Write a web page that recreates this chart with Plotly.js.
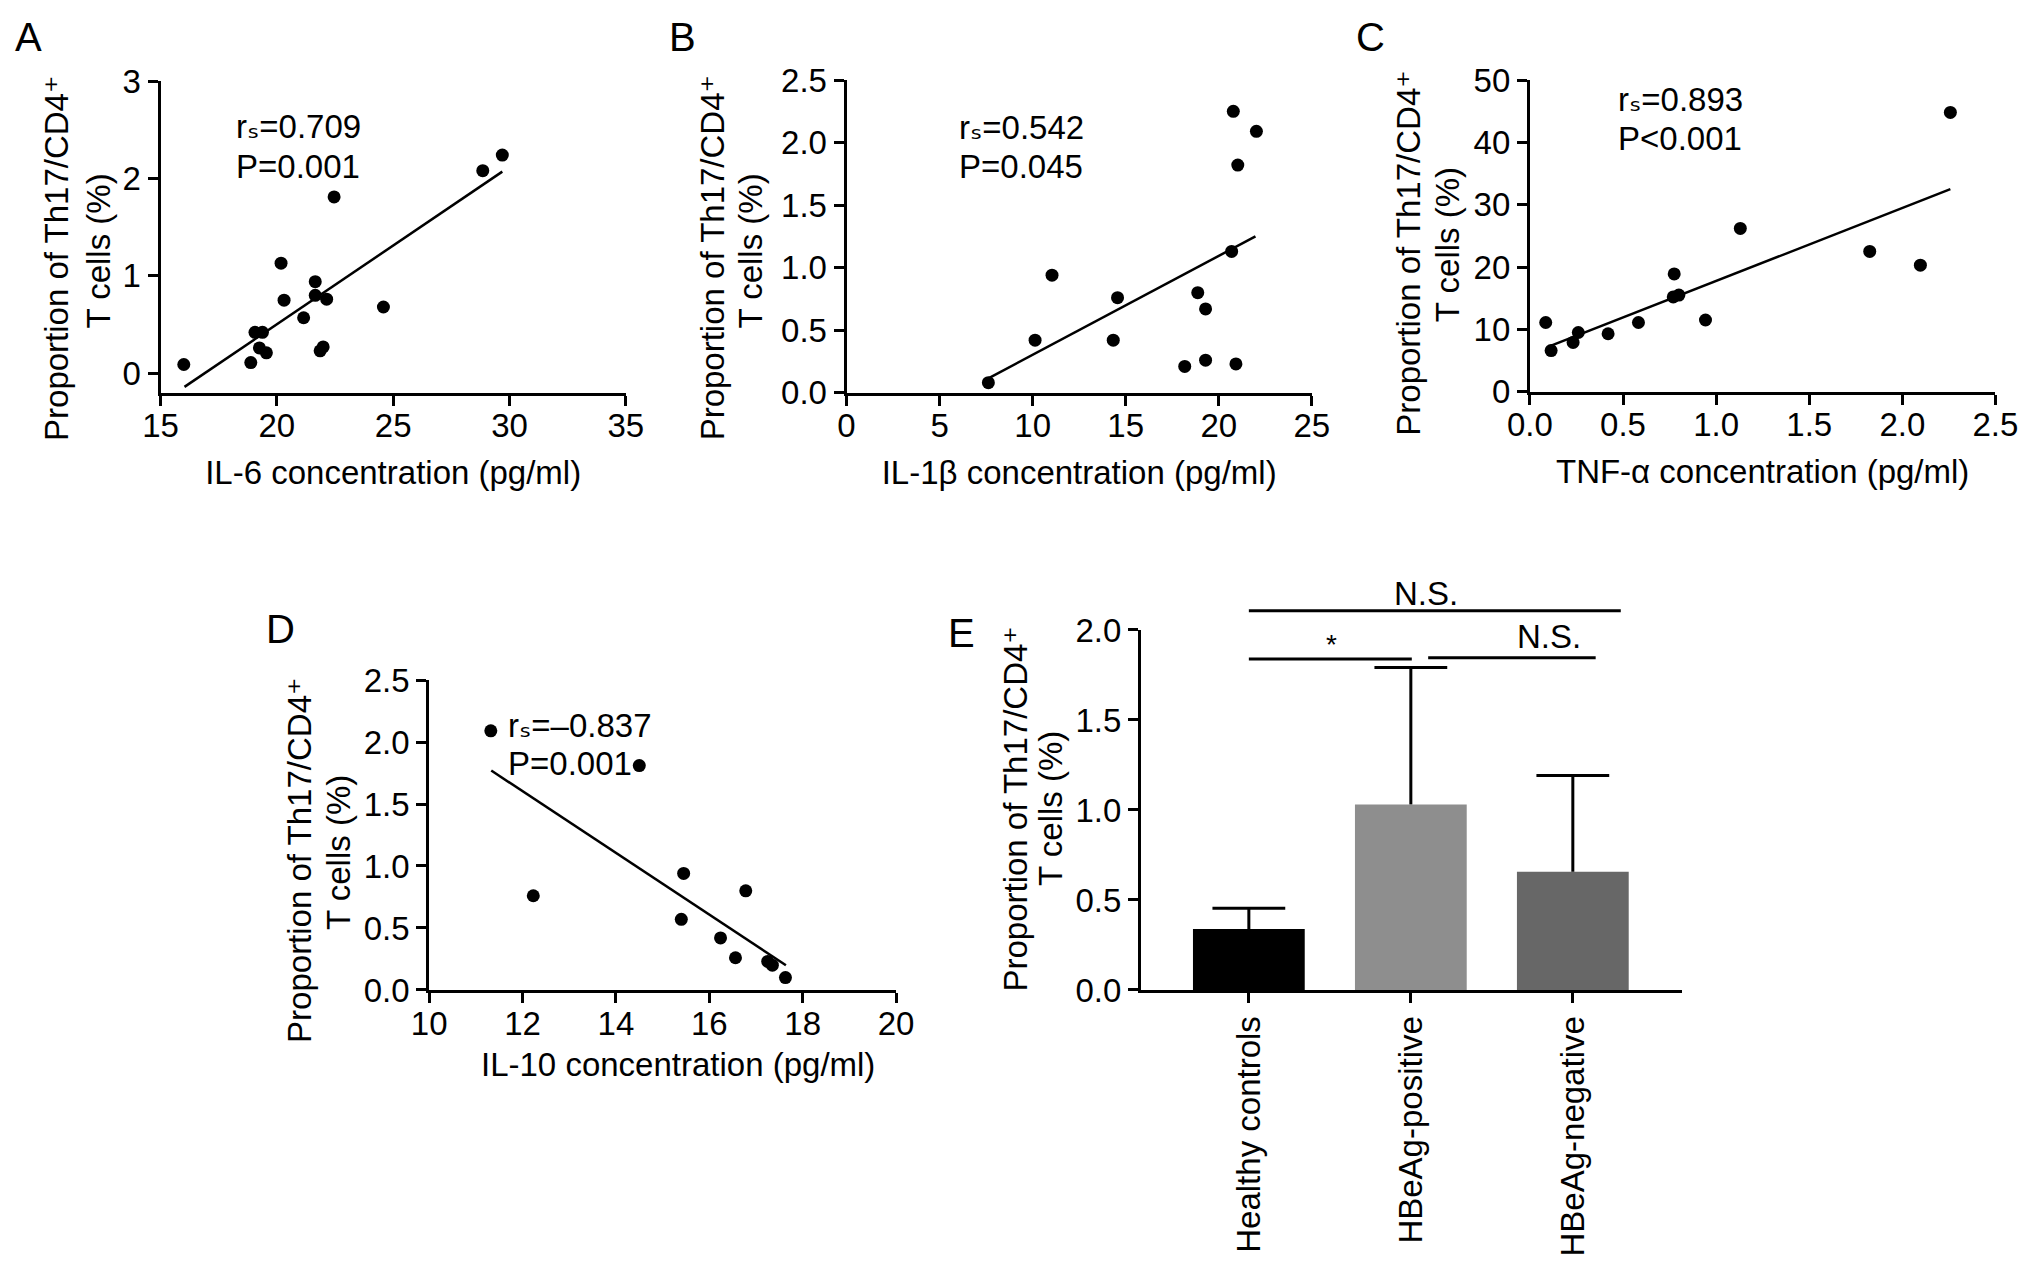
<!DOCTYPE html>
<html>
<head>
<meta charset="utf-8">
<script src="https://cdn.plot.ly/plotly-3.0.1.min.js"></script>
<style>
html,body{margin:0;padding:0;background:#ffffff;}
#chart{width:2032px;height:1264px;}
</style>
</head>
<body>
<div id="chart"></div>
<script>
// ---------------- DATA ----------------
// Panel A: IL-6 vs Th17/CD4+ proportion
const il6X = [16.0, 18.88, 19.06, 19.38, 19.25, 19.55, 20.18, 20.31, 21.15, 21.65, 21.65, 22.14, 21.86, 21.99, 22.46, 24.58, 28.85, 29.69];
const il6Y = [0.09, 0.11, 0.42, 0.42, 0.26, 0.21, 1.13, 0.75, 0.57, 0.94, 0.80, 0.76, 0.23, 0.27, 1.81, 0.68, 2.08, 2.24];
const il6FitX = [16.03, 29.69];
const il6FitY = [-0.14, 2.07];

// Panel B: IL-1beta
const il1bX = [7.62, 10.13, 11.04, 14.33, 14.56, 18.17, 18.87, 19.29, 19.29, 20.69, 20.78, 20.92, 21.02, 22.02];
const il1bY = [0.08, 0.42, 0.94, 0.42, 0.76, 0.21, 0.80, 0.67, 0.26, 1.13, 2.25, 0.23, 1.82, 2.09];
const il1bFitX = [7.62, 21.97];
const il1bFitY = [0.115, 1.25];

// Panel C: TNF-alpha
const tnfX = [0.085, 0.114, 0.232, 0.26, 0.42, 0.583, 0.77, 0.80, 0.775, 0.943, 1.13, 1.825, 2.097, 2.258];
const tnfY = [11.1, 6.6, 7.9, 9.5, 9.3, 11.1, 15.2, 15.5, 18.9, 11.5, 26.2, 22.5, 20.3, 44.8];
const tnfFitX = [0.114, 2.258];
const tnfFitY = [7.38, 32.5];

// Panel D: IL-10
const il10X = [11.32, 12.23, 14.50, 15.45, 15.40, 16.78, 16.24, 16.56, 17.25, 17.35, 17.63];
const il10Y = [2.09, 0.76, 1.81, 0.94, 0.57, 0.80, 0.42, 0.26, 0.23, 0.20, 0.10];
const il10FitX = [11.33, 17.64];
const il10FitY = [1.77, 0.20];

// Correlation statistics (A, B, C, D)
const rsValues = ['0.709', '0.542', '0.893', '\u20130.837'];
const pValues = ['P=0.001', 'P=0.045', 'P<0.001', 'P=0.001'];

// Panel E: group means and SD
const groups = ['Healthy controls', 'HBeAg-positive', 'HBeAg-negative'];
const groupMeans = [0.339, 1.031, 0.657];
const groupSD = [0.115, 0.760, 0.534];

// Panel E: pairwise comparison labels and bracket heights
const compLabels = ['N.S.', '*', 'N.S.'];
const compLevels = [2.107, 1.839, 1.846];

// Axis titles
const yTitleLines = ['Proportion of Th17/CD4\u207A', 'T cells (%)'];
const xTitles = ['IL-6 concentration (pg/ml)', 'IL-1\u03b2 concentration (pg/ml)', 'TNF-\u03b1 concentration (pg/ml)', 'IL-10 concentration (pg/ml)'];
const panelLetters = ['A', 'B', 'C', 'D', 'E'];

// ---------------- STYLE ----------------
const FONT = 'Liberation Sans, Arial, Helvetica, DejaVu Sans, Noto Sans, sans-serif';
const FS = 33;
const BLACK = '#000000';
const barColors = ['#000000', '#8e8e8e', '#676767'];

function scatterTrace(x, y, ax) {
  return {x: x, y: y, xaxis: 'x' + ax, yaxis: 'y' + ax, type: 'scatter', mode: 'markers',
    marker: {color: BLACK, size: 13}, cliponaxis: false, hoverinfo: 'skip'};
}
function fitTrace(x, y, ax) {
  return {x: x, y: y, xaxis: 'x' + ax, yaxis: 'y' + ax, type: 'scatter', mode: 'lines',
    line: {color: BLACK, width: 2.5}, cliponaxis: false, hoverinfo: 'skip'};
}

const traces = [
  scatterTrace(il6X, il6Y, ''), fitTrace(il6FitX, il6FitY, ''),
  scatterTrace(il1bX, il1bY, '2'), fitTrace(il1bFitX, il1bFitY, '2'),
  scatterTrace(tnfX, tnfY, '3'), fitTrace(tnfFitX, tnfFitY, '3'),
  scatterTrace(il10X, il10Y, '4'), fitTrace(il10FitX, il10FitY, '4'),
  {
    x: groups, y: groupMeans, xaxis: 'x5', yaxis: 'y5', type: 'bar',
    marker: {color: barColors, line: {width: 0}},
    error_y: {type: 'data', symmetric: false, array: groupSD, arrayminus: groupSD.map(() => 0),
      color: BLACK, thickness: 3, width: 0},
    hoverinfo: 'skip'
  },
  // upper caps of the SD bars
  {
    x: groups, y: groupMeans.map((m, i) => m + groupSD[i]), xaxis: 'x5', yaxis: 'y5',
    type: 'scatter', mode: 'markers', cliponaxis: false, hoverinfo: 'skip',
    marker: {symbol: 'line-ew', size: 52, color: BLACK, line: {color: BLACK, width: 3}}
  }
];

// Significance brackets (drawn on an invisible overlay axis that shares panel E's scale)
const compX0 = [0, 0, 1.107];
const compX1 = [2.296, 1.006, 2.141];
const bx = [], by = [];
compLevels.forEach((lv, i) => {
  bx.push(compX0[i], compX1[i], null);
  by.push(lv, lv, null);
});
traces.push({x: bx, y: by, xaxis: 'x6', yaxis: 'y6', type: 'scatter', mode: 'lines',
  line: {color: BLACK, width: 3}, hoverinfo: 'skip', connectgaps: false});

function axis(extra) {
  return Object.assign({
    showline: true, linecolor: BLACK, linewidth: 3,
    ticks: 'outside', ticklen: 10, tickwidth: 3, tickcolor: BLACK,
    showgrid: false, zeroline: false, fixedrange: true,
    tickfont: {family: FONT, size: FS, color: BLACK}
  }, extra);
}
function xTitle(t) {
  return {text: t, font: {family: FONT, size: FS, color: BLACK}, standoff: 18};
}

const layout = {
  width: 2032, height: 1264, autosize: false,
  margin: {l: 0, r: 0, t: 0, b: 0, pad: 0},
  paper_bgcolor: '#ffffff', plot_bgcolor: 'rgba(0,0,0,0)',
  showlegend: false, hovermode: false,
  font: {family: FONT, size: FS, color: BLACK},
  bargap: 0.31,
  xaxis: axis({domain: [0.0790, 0.3080], anchor: 'y', range: [15, 35], tickvals: [15, 20, 25, 30, 35], ticklabelstandoff: -8, title: xTitle(xTitles[0])}),
  yaxis: axis({domain: [0.6893, 0.9359], anchor: 'x', range: [-0.2, 3], tickvals: [0, 1, 2, 3]}),
  xaxis2: axis({domain: [0.4166, 0.6456], anchor: 'y2', range: [0, 25], dtick: 5, tick0: 0, ticklabelstandoff: -8, title: xTitle(xTitles[1])}),
  yaxis2: axis({domain: [0.6893, 0.9367], anchor: 'x2', range: [0, 2.5], dtick: 0.5, tick0: 0, tickformat: '.1f'}),
  xaxis3: axis({domain: [0.7529, 0.9820], anchor: 'y3', range: [0, 2.5], dtick: 0.5, tick0: 0, tickformat: '.1f', ticklabelstandoff: -8, title: xTitle(xTitles[2])}),
  yaxis3: axis({domain: [0.6901, 0.9367], anchor: 'x3', range: [0, 50], dtick: 10, tick0: 0}),
  xaxis4: axis({domain: [0.2112, 0.4410], anchor: 'y4', range: [10, 20], dtick: 2, tick0: 10, ticklabelstandoff: -8}),
  yaxis4: axis({domain: [0.2168, 0.4620], anchor: 'x4', range: [0, 2.5], dtick: 0.5, tick0: 0, tickformat: '.1f'}),
  xaxis5: axis({domain: [0.5615, 0.8276], anchor: 'y5', type: 'category', categoryorder: 'array', categoryarray: groups,
    range: [-0.666, 2.672], tickangle: -90}),
  yaxis5: axis({domain: [0.2168, 0.5016], anchor: 'x5', range: [0, 2], dtick: 0.5, tick0: 0, tickformat: '.1f'}),
  xaxis6: {domain: [0.5615, 0.8276], anchor: 'y6', range: [-0.666, 2.672], visible: false, fixedrange: true},
  yaxis6: {domain: [0.2168, 0.56], anchor: 'x6', range: [0, 2.41], visible: false, fixedrange: true},
  annotations: []
};

// Panel D x title (slightly right of the axis centre in the reference)
layout.annotations.push({text: xTitles[3], xref: 'paper', yref: 'paper', x: 0.3335, y: 0.1582,
  xanchor: 'center', yanchor: 'middle', showarrow: false,
  font: {family: FONT, size: FS, color: BLACK}});

// Y axis titles (two rotated lines per panel)
const yTitlePos = [
  [[0.0278, 0.7955], [0.0480, 0.8014]],
  [[0.3504, 0.7956], [0.3696, 0.8010]],
  [[0.6931, 0.7996], [0.7127, 0.8062]],
  [[0.1471, 0.3196], [0.1663, 0.3259]],
  [[0.4998, 0.3600], [0.5172, 0.3608]]
];
yTitlePos.forEach(pair => {
  pair.forEach((p, k) => {
    layout.annotations.push({text: yTitleLines[k], xref: 'paper', yref: 'paper', x: p[0], y: p[1],
      xanchor: 'center', yanchor: 'middle', textangle: -90, showarrow: false,
      font: {family: FONT, size: FS, color: BLACK}});
  });
});

// Panel letters
const letterPos = [[0.0138, 0.9707], [0.3361, 0.9707], [0.6747, 0.9707], [0.1381, 0.5024], [0.4734, 0.4992]];
panelLetters.forEach((L, i) => {
  layout.annotations.push({text: L, xref: 'paper', yref: 'paper', x: letterPos[i][0], y: letterPos[i][1],
    xanchor: 'center', yanchor: 'middle', showarrow: false,
    font: {family: FONT, size: 40, color: BLACK}});
});

// Correlation statistics (two left-aligned lines per panel)
const statAxes = ['', '2', '3', '4'];
const statX = [18.16, 5.93, 0.462, 11.65];
const statY1 = [2.534, 2.120, 46.92, 2.137];
const statY2 = [2.118, 1.807, 40.65, 1.828];
statAxes.forEach((a, i) => {
  layout.annotations.push({text: 'r\u209B=' + rsValues[i],
    xref: 'x' + a, yref: 'y' + a, x: statX[i], y: statY1[i],
    xanchor: 'left', yanchor: 'middle', showarrow: false,
    font: {family: FONT, size: FS, color: BLACK}});
  layout.annotations.push({text: pValues[i],
    xref: 'x' + a, yref: 'y' + a, x: statX[i], y: statY2[i],
    xanchor: 'left', yanchor: 'middle', showarrow: false,
    font: {family: FONT, size: FS, color: BLACK}});
});

// Significance labels
const compTextX = [1.093, 0.51, 1.85];
const compTextY = [2.204, 1.917, 1.963];
compLabels.forEach((t, i) => {
  layout.annotations.push({text: t, xref: 'x6', yref: 'y6', x: compTextX[i], y: compTextY[i],
    xanchor: 'center', yanchor: 'middle', showarrow: false,
    font: {family: FONT, size: t === '*' ? 28 : FS, color: BLACK}});
});

Plotly.newPlot('chart', traces, layout, {staticPlot: true, displayModeBar: false});
</script>
</body>
</html>
